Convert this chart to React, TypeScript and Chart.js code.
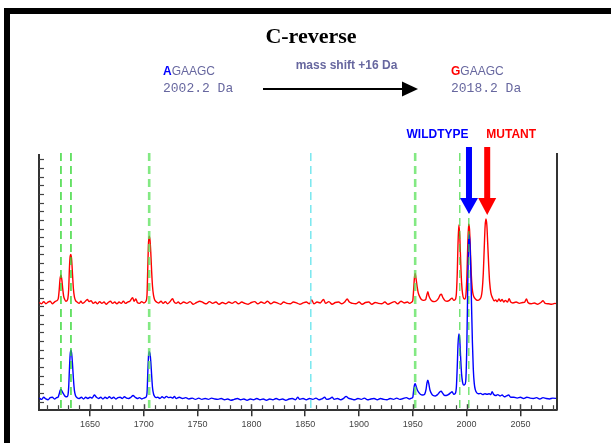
import React, { useEffect, useRef } from 'react';
import { Chart, registerables } from 'chart.js';

Chart.register(...registerables);

// ---- axis ranges and ticks ----
const mzMin = 1602.6;
const mzMax = 2084;
const xLabelTicks = [1650, 1700, 1750, 1800, 1850, 1900, 1950, 2000, 2050];
const xMinorTicks = [
  1610, 1620, 1630, 1640, 1650, 1660, 1670, 1680, 1690, 1700, 1710, 1720, 1730, 1740, 1750, 1760,
  1770, 1780, 1790, 1800, 1810, 1820, 1830, 1840, 1850, 1860, 1870, 1880, 1890, 1900, 1910, 1920,
  1930, 1940, 1950, 1960, 1970, 1980, 1990, 2000, 2010, 2020, 2030, 2040, 2050, 2060, 2070, 2080,
];
const yMin = 0;
const yMax = 29.5;
const yTicks = [0, 1, 2, 3, 4, 5, 6, 7, 8, 9, 10, 11, 12, 13, 14, 15, 16, 17, 18, 19, 20, 21, 22, 23, 24, 25, 26, 27, 28, 29];

// ---- marker lines ----
const greenMarkersThin = [1623, 1632.3];
const greenMarkersBold = [1705, 1952.2];
const greenMarkersFine = [1993.7, 2002.1];
const cyanMarkers = [1855.2];

// ---- annotation values ----
const wildtypeMass = 2002.2;
const mutantMass = 2018.2;
const wildtypeSeq = ['A', 'GAAGC'];
const mutantSeq = ['G', 'GAAGC'];
const wildtypeLabel = '2002.2 Da';
const mutantLabel = '2018.2 Da';
const shiftLabel = 'mass shift +16 Da';
const titleText = 'C-reverse';

// ---- spectra [m/z, intensity] ----
const mutantSpectrum: [number, number][] = [
  [1603, 12.45], [1605, 12.3], [1607, 12.55], [1609, 12.3], [1611, 12.5], [1613, 12.6], [1615, 12.3], [1617, 12.5], [1619, 12.65],
  [1620.5, 12.9], [1621.3, 13.8], [1622.1, 15.1], [1623, 15.6], [1623.8, 15.1], [1624.6, 14.1], [1625.5, 13.2], [1626.5, 12.8],
  [1627.5, 12.6], [1628.5, 12.65], [1629.5, 12.95], [1630.2, 14.0], [1630.9, 16.5], [1631.6, 17.8], [1632.3, 18.0], [1633, 17.3],
  [1633.8, 15.6], [1634.6, 14.0], [1635.5, 13.1], [1636.5, 12.7], [1638, 12.5], [1640, 12.35], [1641.5, 12.6], [1643, 12.35],
  [1645, 12.5], [1647.6, 12.8], [1649, 12.55], [1651, 12.65], [1653, 12.35], [1655, 12.5], [1657, 12.3], [1659, 12.55], [1661, 12.35],
  [1663, 12.5], [1665, 12.25], [1667, 12.45], [1669, 12.6], [1671, 12.35], [1673, 12.5], [1675, 12.3], [1677, 12.5], [1679, 12.35],
  [1681, 12.6], [1683, 12.35], [1685, 12.5], [1687, 12.6], [1689.6, 13.0], [1691, 12.6], [1692.6, 12.85], [1694, 12.45],
  [1696, 12.35], [1698, 12.55], [1700, 12.4], [1702, 12.6], [1703, 13.4], [1703.7, 16.5], [1704.4, 19.4], [1705.1, 20.1],
  [1705.8, 19.6], [1706.5, 18.2], [1707.3, 16.0], [1708.1, 14.3], [1709, 13.3], [1710, 12.8], [1711, 12.6], [1712.5, 12.45],
  [1714, 12.4], [1716, 12.6], [1718, 12.35], [1720, 12.55], [1722, 12.3], [1724, 12.5], [1726.8, 12.9], [1728, 12.55], [1730, 12.35],
  [1732, 12.5], [1734, 12.3], [1737, 12.5], [1740, 12.35], [1743, 12.55], [1746, 12.25], [1749, 12.45], [1752, 12.6], [1755, 12.45],
  [1758, 12.3], [1761, 12.55], [1764, 12.35], [1767, 12.5], [1770, 12.25], [1773, 12.45], [1776, 12.3], [1779, 12.5], [1782, 12.35],
  [1785, 12.55], [1788, 12.3], [1791, 12.5], [1794, 12.35], [1797, 12.25], [1800, 12.45], [1803, 12.55], [1806, 12.3], [1809, 12.5],
  [1812, 12.35], [1815, 12.6], [1818, 12.3], [1821, 12.5], [1824, 12.4], [1827, 12.25], [1830, 12.5], [1833, 12.35], [1836, 12.3],
  [1839, 12.5], [1842, 12.4], [1845, 12.25], [1848, 12.4], [1851, 12.5], [1854, 12.3], [1856, 12.75], [1858, 12.3], [1861, 12.5],
  [1864, 12.4], [1867, 12.8], [1869, 12.35], [1872, 12.55], [1875, 12.25], [1878, 12.45], [1881, 12.5], [1884, 12.3], [1887, 12.55],
  [1889, 12.85], [1891, 12.5], [1894, 12.35], [1897, 12.3], [1900, 12.5], [1903, 12.25], [1906, 12.45], [1909, 12.5], [1912, 12.25],
  [1915, 12.45], [1918, 12.35], [1921, 12.3], [1924, 12.5], [1927, 12.25], [1930, 12.4], [1933, 12.55], [1936, 12.3], [1939, 12.6],
  [1942, 12.4], [1945, 12.5], [1947, 12.35], [1949, 12.5],
  [1950, 12.7], [1950.8, 14.0], [1951.5, 15.3], [1952.2, 15.8], [1953, 15.2], [1954, 14.3], [1955, 13.6], [1956.5, 13.1],
  [1958, 12.8], [1960, 12.7], [1962, 12.8], [1963, 13.3], [1964, 13.7], [1965, 13.2], [1966.5, 12.8], [1968, 12.6], [1970, 12.55],
  [1972, 12.65], [1974, 12.95], [1975.5, 13.35], [1976.5, 13.4], [1978, 13.0], [1980, 12.65], [1982, 12.6], [1984, 12.7],
  [1986.5, 12.95], [1988, 12.7], [1989.5, 12.8], [1990.5, 13.5], [1991.3, 15.8], [1992, 19.2], [1992.8, 21.4], [1993.6, 20.2],
  [1994.4, 17.5], [1995.3, 14.8], [1996.3, 13.4], [1997.3, 12.9], [1998.5, 12.85], [1999.4, 13.4], [2000.2, 15.3], [2001, 18.8],
  [2001.9, 21.5], [2002.7, 20.9], [2003.5, 18.5], [2004.3, 15.8], [2005.2, 14.1], [2006.2, 13.3], [2007.5, 12.95], [2009, 12.75],
  [2010.5, 12.7], [2012, 12.8], [2013.5, 13.1], [2014.5, 13.9], [2015.5, 15.8], [2016.4, 18.8], [2017.2, 21.3], [2018, 22.1],
  [2018.8, 21.4], [2019.6, 19.3], [2020.5, 16.8], [2021.4, 14.8], [2022.5, 13.6], [2024, 13.0], [2025.5, 12.65], [2027, 12.75],
  [2028.5, 12.55], [2030, 12.85], [2031.5, 12.6], [2033, 12.8], [2034.5, 12.5], [2036, 12.7], [2038, 12.5], [2039.5, 12.9],
  [2041, 12.5], [2043, 12.4], [2046, 12.5], [2049, 12.35], [2052, 12.45], [2054, 12.5], [2055.6, 12.85], [2057, 12.45],
  [2060, 12.3], [2063, 12.4], [2066, 12.25], [2069, 12.45], [2071, 12.65], [2073, 12.35], [2076, 12.3], [2079, 12.25], [2082, 12.35],
  [2084, 12.3],
];

const wildtypeSpectrum: [number, number][] = [
  [1603, 1.4], [1605, 1.25], [1607, 1.5], [1609, 1.3], [1611, 1.2], [1613, 1.45], [1615, 1.5], [1617, 1.3], [1619, 1.45],
  [1620.5, 1.55], [1621.5, 1.95], [1622.3, 2.3], [1623, 2.4], [1623.8, 2.25], [1624.8, 2.0], [1625.8, 1.8], [1627, 1.6],
  [1628.5, 1.55], [1629.5, 1.75], [1630.2, 2.7], [1630.9, 4.8], [1631.6, 6.5], [1632.3, 6.95], [1633, 6.5], [1633.8, 5.2],
  [1634.6, 3.6], [1635.5, 2.3], [1636.5, 1.7], [1638, 1.45], [1640, 1.35], [1642, 1.5], [1644, 1.3], [1646, 1.5], [1648, 1.35],
  [1650, 1.5], [1652, 1.4], [1654, 1.75], [1656, 1.5], [1658, 1.35], [1660, 1.5], [1662, 1.3], [1664, 1.5], [1666, 1.35],
  [1668, 1.55], [1670, 1.35], [1672, 1.5], [1674, 1.3], [1676, 1.45], [1678, 1.5], [1680, 1.35], [1682, 1.55], [1684, 1.4],
  [1686, 1.35], [1688, 1.5], [1690, 1.7], [1692, 1.5], [1694, 1.35], [1696, 1.45], [1698, 1.3], [1700, 1.4], [1702, 1.5],
  [1703, 2.0], [1703.7, 4.3], [1704.4, 6.3], [1705.1, 6.75], [1705.8, 6.5], [1706.5, 5.6], [1707.3, 4.0], [1708.1, 2.6],
  [1709, 1.9], [1710, 1.6], [1711.5, 1.45], [1713, 1.5], [1715, 1.35], [1717, 1.55], [1719, 1.4], [1721, 1.6], [1723, 1.45],
  [1725, 1.5], [1727, 1.4], [1728.5, 1.6], [1730, 1.35], [1733, 1.5], [1736, 1.35], [1739, 1.45], [1742, 1.3], [1745, 1.4], [1748, 1.25],
  [1751, 1.4], [1754, 1.25], [1757, 1.35], [1760, 1.25], [1763, 1.4], [1766, 1.3], [1769, 1.25], [1772, 1.35], [1775, 1.2],
  [1778, 1.3], [1781, 1.15], [1784, 1.25], [1787, 1.35], [1790, 1.2], [1793, 1.3], [1796, 1.15], [1799, 1.3], [1802, 1.2],
  [1805, 1.35], [1808, 1.2], [1811, 1.3], [1814, 1.15], [1817, 1.3], [1820, 1.2], [1823, 1.35], [1826, 1.2], [1829, 1.3],
  [1832, 1.15], [1835, 1.3], [1838, 1.35], [1841, 1.2], [1843, 1.5], [1845, 1.25], [1848, 1.35], [1851, 1.2], [1854, 1.35],
  [1857, 1.25], [1860, 1.4], [1863, 1.2], [1866, 1.35], [1868, 1.5], [1870, 1.25], [1873, 1.35], [1875, 1.5], [1877, 1.25],
  [1880, 1.35], [1883, 1.2], [1886, 1.4], [1888, 1.6], [1890, 1.4], [1893, 1.3], [1896, 1.2], [1899, 1.35], [1902, 1.25],
  [1905, 1.4], [1908, 1.2], [1911, 1.3], [1914, 1.35], [1917, 1.2], [1920, 1.35], [1923, 1.25], [1926, 1.2], [1929, 1.35],
  [1932, 1.25], [1935, 1.4], [1938, 1.25], [1941, 1.35], [1944, 1.45], [1947, 1.3], [1949, 1.4],
  [1950, 1.5], [1950.8, 2.3], [1951.5, 2.9], [1952.2, 3.06], [1953, 2.8], [1954, 2.4], [1955.5, 2.05], [1957, 1.85], [1959, 1.75],
  [1961, 1.85], [1962.3, 2.4], [1963.2, 3.2], [1964, 3.48], [1964.8, 3.1], [1966, 2.3], [1967.5, 1.9], [1969, 1.7], [1971, 1.65],
  [1973, 1.8], [1975, 2.1], [1976.3, 2.2], [1977.5, 2.0], [1979, 1.75], [1981, 1.7], [1983, 1.8], [1985, 2.0], [1986.5, 2.13],
  [1988, 1.85], [1989.5, 1.95], [1990.5, 2.7], [1991.3, 5.0], [1992, 7.6], [1992.8, 8.8], [1993.6, 8.2], [1994.4, 6.2],
  [1995.3, 4.2], [1996.3, 3.2], [1997.3, 2.9], [1998.5, 3.0], [1999.4, 3.8], [2000.2, 7.5], [2001, 14.0], [2001.8, 19.3],
  [2002.4, 20.3], [2003.1, 19.3], [2003.8, 16.5], [2004.6, 12.0], [2005.4, 7.8], [2006.2, 4.8], [2007.1, 3.1], [2008, 2.4],
  [2009.5, 2.0], [2011, 1.9], [2013, 1.95], [2015, 1.8], [2017, 1.9], [2019, 1.85], [2021, 1.9], [2022.5, 1.8], [2023.7, 2.15],
  [2025, 1.85], [2027, 1.7], [2029, 1.8], [2031, 1.65], [2033, 1.75], [2035, 1.55], [2037, 1.65], [2039, 1.75], [2041, 1.5],
  [2044, 1.5], [2047, 1.4], [2050, 1.5], [2053, 1.35], [2056, 1.5], [2059, 1.4], [2062, 1.35], [2065, 1.45], [2068, 1.3],
  [2071, 1.45], [2074, 1.35], [2077, 1.3], [2080, 1.4], [2084, 1.35],
];

const SLATE = '#67679f';
const AXIS = '#333333';

const decorPlugin = {
  id: 'decor',
  beforeDraw(chart: any) {
    const ctx = chart.ctx;
    ctx.save();
    ctx.fillStyle = '#ffffff';
    ctx.fillRect(0, 0, chart.width, chart.height);
    ctx.fillStyle = '#000000';
    ctx.fillRect(4, 8, chart.width - 4, 6);
    ctx.fillRect(4, 8, 6, chart.height - 8);
    ctx.restore();
  },
  afterDatasetsDraw(chart: any) {
    const ctx = chart.ctx;
    const xs = chart.scales.x;
    const ys = chart.scales.y;
    const area = chart.chartArea;
    ctx.save();
    const vline = (v: number, color: string, width: number) => {
      const px = xs.getPixelForValue(v);
      ctx.beginPath();
      ctx.strokeStyle = color;
      ctx.lineWidth = width;
      ctx.setLineDash([8, 5]);
      ctx.moveTo(px, area.top - 2);
      ctx.lineTo(px, area.bottom);
      ctx.stroke();
    };
    greenMarkersBold.forEach((v) => vline(v, 'rgba(90,225,90,0.75)', 2.6));
    greenMarkersThin.forEach((v) => vline(v, '#2fd62f', 1.4));
    greenMarkersFine.forEach((v) => vline(v, '#33d633', 1));
    cyanMarkers.forEach((v) => vline(v, '#6fe6ee', 1.4));
    ctx.setLineDash([]);

    // right frame line
    ctx.beginPath();
    ctx.strokeStyle = AXIS;
    ctx.lineWidth = 2;
    ctx.moveTo(area.right, area.top - 2);
    ctx.lineTo(area.right, area.bottom);
    ctx.stroke();

    // inner ticks on y axis
    ctx.strokeStyle = '#444';
    ctx.lineWidth = 1.2;
    ys.ticks.forEach((t: any) => {
      if (t.value === 0) return;
      const py = Math.round(ys.getPixelForValue(t.value)) + 0.5;
      ctx.beginPath();
      ctx.moveTo(area.left, py);
      ctx.lineTo(area.left + 5, py);
      ctx.stroke();
    });
    // inner ticks on x axis
    xs.ticks.forEach((t: any) => {
      const px = Math.round(xs.getPixelForValue(t.value)) + 0.5;
      const major = xLabelTicks.includes(t.value);
      ctx.beginPath();
      ctx.lineWidth = major ? 1.5 : 1.2;
      ctx.moveTo(px, area.bottom);
      ctx.lineTo(px, area.bottom - (major ? 6 : 5));
      ctx.stroke();
    });
    ctx.restore();
  },
  afterDraw(chart: any) {
    const ctx = chart.ctx;
    const xs = chart.scales.x;
    ctx.save();
    ctx.textBaseline = 'middle';

    // title
    ctx.fillStyle = '#000';
    ctx.textAlign = 'center';
    ctx.font = 'bold 22px "Liberation Serif"';
    ctx.fillText(titleText, 311, 37);

    // sequences
    const seq = (parts: string[], color: string, x: number, y: number) => {
      ctx.textAlign = 'left';
      ctx.font = 'bold 12px "Liberation Sans"';
      ctx.fillStyle = color;
      ctx.fillText(parts[0], x, y);
      const w = ctx.measureText(parts[0]).width;
      ctx.font = '12px "Liberation Sans"';
      ctx.fillStyle = SLATE;
      ctx.fillText(parts[1], x + w, y);
    };
    seq(wildtypeSeq, '#0000ff', 163, 72);
    seq(mutantSeq, '#ff0000', 451, 72);

    ctx.font = '13px "Liberation Mono"';
    ctx.fillStyle = SLATE;
    ctx.textAlign = 'left';
    ctx.fillText(wildtypeLabel, 163, 89);
    ctx.fillText(mutantLabel, 451, 89);

    ctx.font = 'bold 12px "Liberation Sans"';
    ctx.textAlign = 'center';
    ctx.fillText(shiftLabel, 346.5, 66);

    // mass shift arrow
    ctx.strokeStyle = '#000';
    ctx.fillStyle = '#000';
    ctx.lineWidth = 2;
    ctx.beginPath();
    ctx.moveTo(263, 89);
    ctx.lineTo(405, 89);
    ctx.stroke();
    ctx.beginPath();
    ctx.moveTo(402, 81.5);
    ctx.lineTo(418, 89);
    ctx.lineTo(402, 96.5);
    ctx.closePath();
    ctx.fill();

    // wildtype / mutant arrows
    const bx = xs.getPixelForValue(wildtypeMass);
    const rx = xs.getPixelForValue(mutantMass) + 1;
    const downArrow = (cx: number, color: string, tip: number) => {
      ctx.fillStyle = color;
      ctx.fillRect(cx - 3, 147, 6, 52);
      ctx.beginPath();
      ctx.moveTo(cx - 9, 198);
      ctx.lineTo(cx + 9, 198);
      ctx.lineTo(cx, tip);
      ctx.closePath();
      ctx.fill();
    };
    downArrow(bx, '#0000ff', 214);
    downArrow(rx, '#ff0000', 215);

    ctx.font = 'bold 12px "Liberation Sans"';
    ctx.textAlign = 'center';
    ctx.fillStyle = '#0000ff';
    ctx.fillText('WILDTYPE', bx - 31.5, 135);
    ctx.fillStyle = '#ff0000';
    ctx.fillText('MUTANT', rx + 24, 135);
    ctx.restore();
  },
};

export default function App() {
  const canvasRef = useRef<HTMLCanvasElement | null>(null);

  useEffect(() => {
    if (!canvasRef.current) return;
    const chart = new Chart(canvasRef.current, {
      type: 'line',
      data: {
        datasets: [
          {
            label: 'WILDTYPE',
            data: wildtypeSpectrum.map(([x, y]) => ({ x, y })),
            borderColor: '#0000ff',
            borderWidth: 1.4,
            pointRadius: 0,
            cubicInterpolationMode: 'monotone',
            fill: false,
          },
          {
            label: 'MUTANT',
            data: mutantSpectrum.map(([x, y]) => ({ x, y })),
            borderColor: '#ff0000',
            borderWidth: 1.4,
            pointRadius: 0,
            cubicInterpolationMode: 'monotone',
            fill: false,
          },
        ],
      },
      options: {
        animation: false,
        responsive: false,
        devicePixelRatio: 1,
        layout: { padding: { left: 39, right: 54, top: 155, bottom: 10 } },
        plugins: {
          legend: { display: false },
          title: { display: false },
          tooltip: { enabled: false },
        },
        scales: {
          x: {
            type: 'linear',
            min: mzMin,
            max: mzMax,
            afterBuildTicks: (scale: any) => {
              scale.ticks = xMinorTicks.map((v) => ({ value: v }));
            },
            ticks: {
              autoSkip: false,
              maxRotation: 0,
              padding: 3,
              color: '#444',
              font: { family: '"Liberation Sans"', size: 9 },
              callback: (v: any) => (xLabelTicks.includes(Number(v)) ? String(v) : ''),
            },
            grid: {
              drawOnChartArea: false,
              drawTicks: true,
              tickLength: 6,
              lineWidth: 1.5,
              color: (c: any) => (c.tick && xLabelTicks.includes(c.tick.value) ? AXIS : 'rgba(0,0,0,0)'),
            },
            border: { display: true, color: AXIS, width: 2 },
          },
          y: {
            type: 'linear',
            min: yMin,
            max: yMax,
            afterBuildTicks: (scale: any) => {
              scale.ticks = yTicks.map((v) => ({ value: v }));
            },
            ticks: { display: false },
            grid: { drawOnChartArea: false, drawTicks: false },
            border: { display: true, color: AXIS, width: 2 },
          },
        },
      },
      plugins: [decorPlugin],
    });
    return () => chart.destroy();
  }, []);

  return (
    <canvas
      ref={canvasRef}
      width={611}
      height={443}
      style={{ position: 'fixed', left: 0, top: 0, width: 611, height: 443 }}
    />
  );
}
